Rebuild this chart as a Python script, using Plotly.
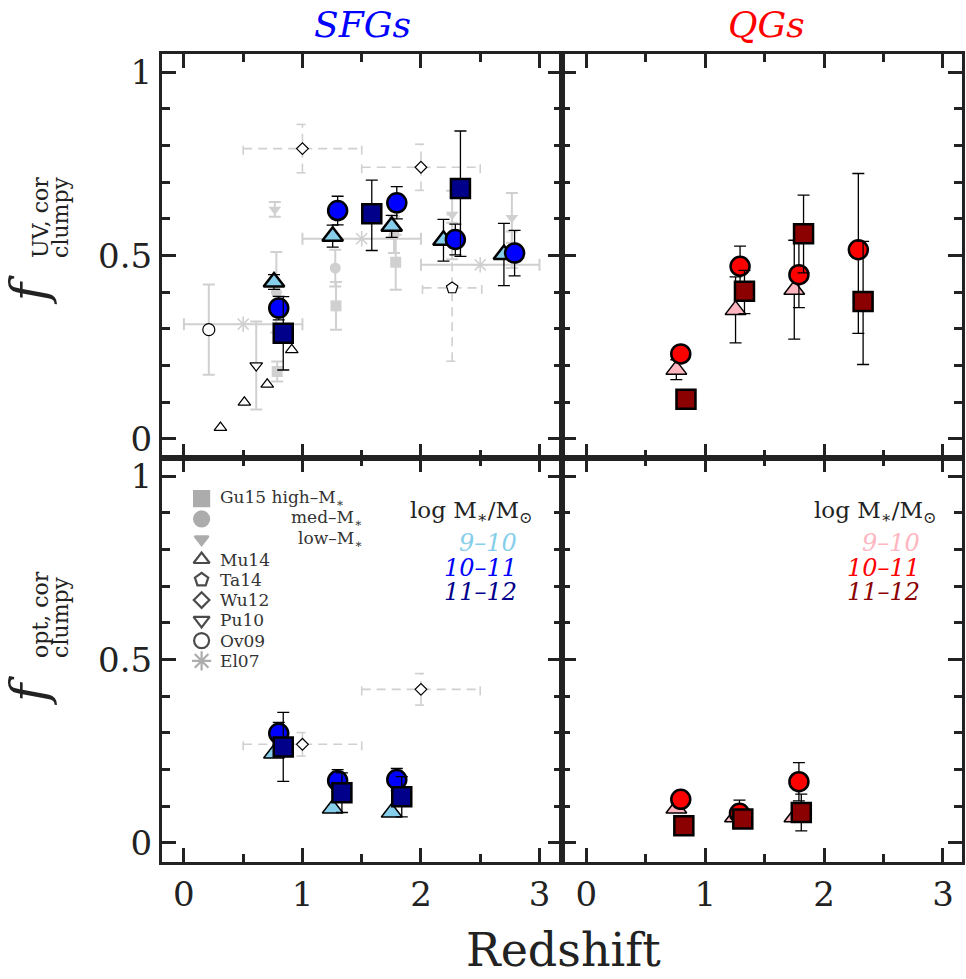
import plotly.graph_objects as go
from plotly.subplots import make_subplots

# ---------------- data ----------------
# SFGs, UV (top-left)
sfg_uv_lo_x = [0.76, 1.255, 1.753, 2.19, 2.70]
sfg_uv_lo_y = [0.428, 0.553, 0.580, 0.542, 0.503]
sfg_uv_lo_e = [0.02, 0.03, 0.03, 0.057, 0.085]
sfg_uv_md_x = [0.80, 1.297, 1.796, 2.29, 2.79]
sfg_uv_md_y = [0.357, 0.623, 0.644, 0.544, 0.507]
sfg_uv_md_e = [0.032, 0.039, 0.044, 0.042, 0.062]
sfg_uv_hi_x = [0.838, 1.585, 2.333]
sfg_uv_hi_y = [0.288, 0.614, 0.683]
sfg_uv_hi_ep = [0.10, 0.092, 0.157]
sfg_uv_hi_em = [0.10, 0.10, 0.185]

# QGs, UV (top-right)
qg_uv_lo_x = [0.757, 1.255, 1.749]
qg_uv_lo_y = [0.189, 0.352, 0.407]
qg_uv_lo_e = [0.027, 0.09, 0.135]
qg_uv_md_x = [0.794, 1.293, 1.788, 2.288]
qg_uv_md_y = [0.232, 0.471, 0.448, 0.516]
qg_uv_md_ep = [0.015, 0.055, 0.09, 0.208]
qg_uv_md_em = [0.015, 0.055, 0.09, 0.228]
qg_uv_hi_x = [0.838, 1.33, 1.827, 2.328]
qg_uv_hi_y = [0.108, 0.403, 0.560, 0.375]
qg_uv_hi_ep = [0.0, 0.057, 0.105, 0.164]
qg_uv_hi_em = [0.0, 0.061, 0.107, 0.172]

# SFGs, optical (bottom-left)
sfg_op_lo_x = [0.76, 1.255, 1.753]
sfg_op_lo_y = [0.244, 0.094, 0.083]
sfg_op_md_x = [0.80, 1.297, 1.796]
sfg_op_md_y = [0.299, 0.170, 0.173]
sfg_op_md_e = [0.03, 0.03, 0.03]
sfg_op_hi_x = [0.838, 1.333, 1.838]
sfg_op_hi_y = [0.262, 0.137, 0.126]
sfg_op_hi_e = [0.094, 0.054, 0.055]

# QGs, optical (bottom-right)
qg_op_lo_x = [0.757, 1.25, 1.75]
qg_op_lo_y = [0.094, 0.07, 0.07]
qg_op_md_x = [0.794, 1.288, 1.788]
qg_op_md_y = [0.119, 0.081, 0.167]
qg_op_md_e = [0.01, 0.036, 0.052]
qg_op_hi_x = [0.82, 1.316, 1.808]
qg_op_hi_y = [0.047, 0.065, 0.083]
qg_op_hi_e = [0.0, 0.02, 0.05]

# literature (UV)
gu15_high_x = [0.787, 1.283, 1.787]
gu15_high_y = [0.184, 0.363, 0.482]
gu15_high_e = [0.027, 0.065, 0.075]
gu15_med_x = [0.78, 1.277, 1.773, 2.263, 2.767]
gu15_med_y = [0.40, 0.466, 0.557, 0.54, 0.516]
gu15_med_e = [0.11, 0.05, 0.05, 0.05, 0.05]
gu15_low_x = [0.767, 2.263, 2.767]
gu15_low_y = [0.626, 0.612, 0.603]
gu15_low_e = [0.02, 0.065, 0.068]
mu14_x = [0.308, 0.51, 0.703, 0.91]
mu14_y = [0.031, 0.10, 0.149, 0.243]
ta14_x = [2.263]
ta14_y = [0.412]
ta14_xe = [0.25]
ta14_ye = [0.2]
wu12_uv_x = [1.0, 2.0]
wu12_uv_y = [0.792, 0.741]
wu12_uv_xe = [0.5, 0.5]
wu12_uv_ye = [0.066, 0.063]
pu10_x = [0.61]
pu10_y = [0.20]
pu10_e = [0.12]
ov09_x = [0.21]
ov09_y = [0.298]
ov09_e = [0.123]
el07_x = [0.5, 1.5, 2.5]
el07_y = [0.313, 0.546, 0.475]
el07_xe = [0.5, 0.5, 0.5]
# literature (optical)
wu12_op_x = [1.0, 2.0]
wu12_op_y = [0.269, 0.419]
wu12_op_xe = [0.5, 0.5]
wu12_op_ye = [0.032, 0.043]

legend_labels = ["Gu15 high\u2013M<sub>\u2217</sub>", "med\u2013M<sub>\u2217</sub>", "low\u2013M<sub>\u2217</sub>",
                 "Mu14", "Ta14", "Wu12", "Pu10", "Ov09", "El07"]
mass_bins = ["9\u201310", "10\u201311", "11\u201312"]

# ---------------- style ----------------
FONT = "DejaVu Serif"
FRAME = "#222222"
LGRAY = "#d0d0d0"
DGRAY = "#8a8a8a"
C_SFG = ["#87ceeb", "#0000ff", "#00008b"]
C_QG = ["#ffb6c1", "#ff0000", "#8b0000"]
CAPX = 0.05     # cap half-length in x data units (~6 px)
CAPY = 0.0165   # cap half-length in y data units (~6 px)

fig = make_subplots(rows=2, cols=2, horizontal_spacing=0, vertical_spacing=0)


def ebar(arr, arrm=None, color="black", th=1.3):
    if arr is None:
        return None
    d = dict(type="data", array=arr, color=color, thickness=th, width=6, visible=True)
    if arrm is not None:
        d["symmetric"] = False
        d["arrayminus"] = arrm
    return d


def pts(x, y, r, c, symbol, size, fill, lc="black", lw=2.5, ey=None, eym=None, ex=None,
        ecolor="black", eth=1.3):
    fig.add_trace(go.Scatter(
        x=x, y=y, mode="markers", showlegend=False, hoverinfo="skip",
        marker=dict(symbol=symbol, size=size, color=fill, line=dict(color=lc, width=lw)),
        error_y=ebar(ey, eym, ecolor, eth), error_x=ebar(ex, None, ecolor, eth)), row=r, col=c)


def dashed_bars(x, y, xe, ye, r, c):
    xs, ys = [], []
    for xi, yi, xei, yei in zip(x, y, xe, ye):
        xs += [xi - xei, xi + xei, None, xi - xei, xi - xei, None, xi + xei, xi + xei, None]
        ys += [yi, yi, None, yi - CAPY, yi + CAPY, None, yi - CAPY, yi + CAPY, None]
        xs += [xi, xi, None, xi - CAPX, xi + CAPX, None, xi - CAPX, xi + CAPX, None]
        ys += [yi - yei, yi + yei, None, yi - yei, yi - yei, None, yi + yei, yi + yei, None]
    fig.add_trace(go.Scatter(x=xs, y=ys, mode="lines", showlegend=False, hoverinfo="skip",
                             line=dict(color=LGRAY, width=1.6, dash="9px,6px")), row=r, col=c)


# ---- top-left: SFGs UV ----
dashed_bars(wu12_uv_x, wu12_uv_y, wu12_uv_xe, wu12_uv_ye, 1, 1)
dashed_bars(ta14_x, ta14_y, ta14_xe, ta14_ye, 1, 1)
pts(el07_x, el07_y, 1, 1, "asterisk-open", 13, LGRAY, lw=1.6, ex=el07_xe, ecolor=LGRAY, eth=2)
pts(ov09_x, ov09_y, 1, 1, "circle", 12, "white", lw=1.2, ey=ov09_e, ecolor=LGRAY, eth=2)
pts(pu10_x, pu10_y, 1, 1, "triangle-down", 11, "white", lw=1.2, ey=pu10_e, ecolor=LGRAY, eth=2)
pts(gu15_low_x, gu15_low_y, 1, 1, "triangle-down", 11, LGRAY, lc=LGRAY, lw=0, ey=gu15_low_e, ecolor=LGRAY, eth=2)
pts(gu15_med_x, gu15_med_y, 1, 1, "circle", 11, LGRAY, lc=LGRAY, lw=0, ey=gu15_med_e, ecolor=LGRAY, eth=2)
pts(gu15_high_x, gu15_high_y, 1, 1, "square", 11, LGRAY, lc=LGRAY, lw=0, ey=gu15_high_e, ecolor=LGRAY, eth=2)
pts(mu14_x, mu14_y, 1, 1, "triangle-up", 11, "white", lw=1.2)
pts(ta14_x, ta14_y, 1, 1, "pentagon", 12, "white", lw=1.2)
pts(wu12_uv_x, wu12_uv_y, 1, 1, "diamond", 9, "white", lw=1.2)
pts(sfg_uv_lo_x, sfg_uv_lo_y, 1, 1, "triangle-up", 18, C_SFG[0], ey=sfg_uv_lo_e)
pts(sfg_uv_md_x, sfg_uv_md_y, 1, 1, "circle", 19, C_SFG[1], ey=sfg_uv_md_e)
pts(sfg_uv_hi_x, sfg_uv_hi_y, 1, 1, "square", 19, C_SFG[2], ey=sfg_uv_hi_ep, eym=sfg_uv_hi_em)

# ---- top-right: QGs UV ----
pts(qg_uv_lo_x, qg_uv_lo_y, 1, 2, "triangle-up", 18, C_QG[0], lw=1.5, ey=qg_uv_lo_e)
pts(qg_uv_md_x, qg_uv_md_y, 1, 2, "circle", 19, C_QG[1], ey=qg_uv_md_ep, eym=qg_uv_md_em)
pts(qg_uv_hi_x, qg_uv_hi_y, 1, 2, "square", 19, C_QG[2], ey=qg_uv_hi_ep, eym=qg_uv_hi_em)

# ---- bottom-left: SFGs optical ----
dashed_bars(wu12_op_x, wu12_op_y, wu12_op_xe, wu12_op_ye, 2, 1)
pts(wu12_op_x, wu12_op_y, 2, 1, "diamond", 9, "white", lw=1.2)
pts(sfg_op_lo_x, sfg_op_lo_y, 2, 1, "triangle-up", 18, C_SFG[0], lw=1.5)
pts(sfg_op_md_x, sfg_op_md_y, 2, 1, "circle", 19, C_SFG[1], ey=sfg_op_md_e)
pts(sfg_op_hi_x, sfg_op_hi_y, 2, 1, "square", 19, C_SFG[2], ey=sfg_op_hi_e)

# ---- bottom-right: QGs optical ----
pts(qg_op_lo_x, qg_op_lo_y, 2, 2, "triangle-up", 18, C_QG[0], lw=1.5)
pts(qg_op_md_x, qg_op_md_y, 2, 2, "circle", 19, C_QG[1], ey=qg_op_md_e)
pts(qg_op_hi_x, qg_op_hi_y, 2, 2, "square", 19, C_QG[2], ey=qg_op_hi_e)

# ---- legend keys (bottom-left panel) ----
LEG_X = 0.149
LEG_Y0 = 0.939
LEG_DY = 0.0553
leg_y = [LEG_Y0 - i * LEG_DY for i in range(len(legend_labels))]
leg_sym = ["square", "circle", "triangle-down", "triangle-up", "pentagon", "diamond",
           "triangle-down", "circle", "asterisk-open"]
leg_fill = [DGRAY, DGRAY, DGRAY, "white", "white", "white", "white", "white", DGRAY]
leg_line = [DGRAY, DGRAY, DGRAY, "black", "black", "black", "black", "black", DGRAY]
leg_size = [15, 15, 12, 14, 14, 12, 14, 15, 16]
fig.add_trace(go.Scatter(x=[LEG_X] * len(leg_y), y=leg_y, mode="markers", showlegend=False,
                         hoverinfo="skip",
                         marker=dict(symbol=leg_sym, size=leg_size, color=leg_fill,
                                     line=dict(color=leg_line, width=2.2))), row=2, col=1)

ann = []
for i, lab in enumerate(legend_labels):
    right = i in (1, 2)
    ann.append(dict(xref="x3", yref="y3", x=(1.52 if right else 0.285), y=leg_y[i],
                    xanchor=("right" if right else "left"), yanchor="middle", text=lab,
                    showarrow=False, font=dict(family=FONT, size=17, color="#333333")))

for xr, yr, xe, cols in (("x3", "y3", 2.966, C_SFG), ("x4", "y4", 2.967, C_QG)):
    ann.append(dict(xref=xr, yref=yr, x=xe, y=0.902, xanchor="right", yanchor="middle",
                    text="log M<sub>\u2217</sub>/M<sub>\u2299</sub>", showarrow=False,
                    font=dict(family=FONT, size=23, color="#222222")))
    for j, lab in enumerate(mass_bins):
        ann.append(dict(xref=xr, yref=yr, x=xe - 0.14, y=0.817 - j * 0.066, xanchor="right",
                        yanchor="middle", text="<i>" + lab + "</i>", showarrow=False,
                        font=dict(family=FONT, size=24, color=cols[j])))

# titles
ann.append(dict(xref="paper", yref="paper", x=0.25, y=1.037, text="<i>SFGs</i>", showarrow=False,
                xanchor="center", yanchor="middle", font=dict(family=FONT, size=36, color="#0000ff")))
ann.append(dict(xref="paper", yref="paper", x=0.755, y=1.037, text="<i>QGs</i>", showarrow=False,
                xanchor="center", yanchor="middle", font=dict(family=FONT, size=36, color="#ff0000")))
ann.append(dict(xref="paper", yref="paper", x=0.502, y=-0.109, text="Redshift", showarrow=False,
                xanchor="center", yanchor="middle", font=dict(family=FONT, size=46, color="#222222")))

# y-axis titles
for yf, ys, sup in ((0.708, 0.745, "UV, cor"), (0.212, 0.25, "opt, cor")):
    ann.append(dict(xref="paper", yref="paper", x=-0.166, y=yf, text="<i>f</i>", textangle=-90,
                    showarrow=False, xanchor="center", yanchor="middle",
                    font=dict(family=FONT, size=50, color="#222222")))
    ann.append(dict(xref="paper", yref="paper", x=-0.152, y=ys, text=sup, textangle=-90,
                    showarrow=False, xanchor="center", yanchor="bottom",
                    font=dict(family=FONT, size=22, color="#222222")))
    ann.append(dict(xref="paper", yref="paper", x=-0.127, y=ys, text="clumpy", textangle=-90,
                    showarrow=False, xanchor="center", yanchor="bottom",
                    font=dict(family=FONT, size=22, color="#222222")))

fig.update_layout(annotations=ann)

# ---------------- axes ----------------
axcommon = dict(showgrid=False, zeroline=False, showline=True, linewidth=3, linecolor=FRAME,
                mirror="allticks", ticks="inside", ticklen=14, tickwidth=3, tickcolor=FRAME,
                tickfont=dict(family=FONT, size=34, color="#222222"))
for i, (xr, showx, showy) in enumerate([((-0.185, 3.19), False, True), ((-0.205, 3.16), False, False),
                                         ((-0.185, 3.19), True, True), ((-0.205, 3.16), True, False)]):
    n = "" if i == 0 else str(i + 1)
    fig.update_layout(**{
        "xaxis" + n: dict(axcommon, range=list(xr), tick0=0, dtick=1, showticklabels=showx,
                          minor=dict(tick0=0, dtick=0.5, ticks="inside", ticklen=8, tickwidth=2.5,
                                     tickcolor=FRAME, showgrid=False)),
        "yaxis" + n: dict(axcommon, range=[-0.052, 1.05], tick0=0, dtick=0.5, showticklabels=showy,
                          minor=dict(tick0=0, dtick=0.1, ticks="inside", ticklen=8, tickwidth=2.5,
                                     tickcolor=FRAME, showgrid=False)),
    })

fig.update_layout(width=966, height=979, margin=dict(l=162, r=1, t=54, b=117),
                  plot_bgcolor="white", paper_bgcolor="white", showlegend=False)

fig.write_html("out.html")
